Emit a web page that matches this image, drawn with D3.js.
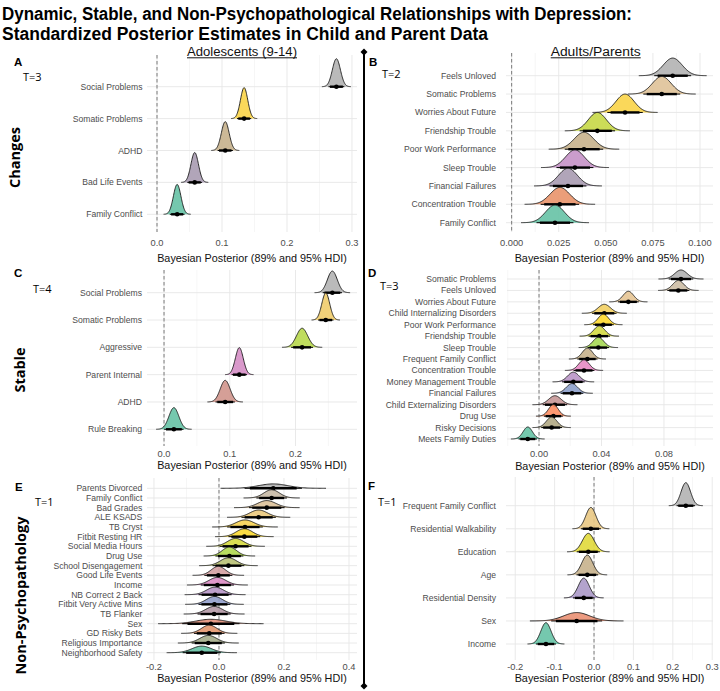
<!DOCTYPE html>
<html><head><meta charset="utf-8">
<script src="https://cdn.jsdelivr.net/npm/d3@7"></script>
<style>body{margin:0;background:#fff}svg{display:block}</style>
</head><body>
<script>
// ---------------- DATA (categories listed top to bottom) ----------------
const aCategories = ["Social Problems","Somatic Problems","ADHD","Bad Life Events","Family Conflict"];
const aMedians    = [0.276, 0.134, 0.105, 0.058, 0.031];
const aSpreads    = [0.0062, 0.0056, 0.0060, 0.0058, 0.0058];
const aTicks      = [0, 0.1, 0.2, 0.3];
const aTickLabels = ["0.0","0.1","0.2","0.3"];
const aMinor      = [0.05, 0.15, 0.25];

const bCategories = ["Feels Unloved","Somatic Problems","Worries About Future","Friendship Trouble","Poor Work Performance","Sleep Trouble","Financial Failures","Concentration Trouble","Family Conflict"];
const bMedians    = [0.0855, 0.0797, 0.0602, 0.0455, 0.0384, 0.0336, 0.0299, 0.0256, 0.0230];
const bSpreads    = [0.0050, 0.0050, 0.0048, 0.0048, 0.0052, 0.0050, 0.0050, 0.0052, 0.0050];
const bTicks      = [0, 0.025, 0.05, 0.075, 0.1];
const bTickLabels = ["0.000","0.025","0.050","0.075","0.100"];
const bMinor      = [0.0125, 0.0375, 0.0625, 0.0875];

const cCategories = ["Social Problems","Somatic Problems","Aggressive","Parent Internal","ADHD","Rule Breaking"];
const cMedians    = [0.256, 0.246, 0.210, 0.1145, 0.093, 0.015];
const cSpreads    = [0.0075, 0.0060, 0.0085, 0.0060, 0.0075, 0.0075];
const cTicks      = [0, 0.1, 0.2];
const cTickLabels = ["0.0","0.1","0.2"];
const cMinor      = [0.05, 0.15, 0.25];

const dCategories = ["Somatic Problems","Feels Unloved","Worries About Future","Child Internalizing Disorders","Poor Work Performance","Friendship Trouble","Sleep Trouble","Frequent Family Conflict","Concentration Trouble","Money Management Trouble","Financial Failures","Child Externalizing Disorders","Drug Use","Risky Decisions","Meets Family Duties"];
const dMedians    = [0.0909, 0.0892, 0.0572, 0.0418, 0.0412, 0.0386, 0.0380, 0.0310, 0.0288, 0.0220, 0.0211, 0.0102, 0.0092, 0.0081, -0.0072];
const dSpreads    = [0.0040, 0.0036, 0.0034, 0.0040, 0.0034, 0.0035, 0.0035, 0.0033, 0.0034, 0.0037, 0.0037, 0.0040, 0.0031, 0.0034, 0.0030];
const dTicks      = [0, 0.04, 0.08];
const dTickLabels = ["0.00","0.04","0.08"];
const dMinor      = [-0.02, 0.02, 0.06, 0.10];

const eCategories = ["Parents Divorced","Family Conflict","Bad Grades","ALE KSADS","TB Cryst","Fitbit Resting HR","Social Media Hours","Drug Use","School Disengagement","Good Life Events","Income","NB Correct 2 Back","Fitbit Very Active Mins","TB Flanker","Sex","GD Risky Bets","Religious Importance","Neighborhood Safety"];
const eMedians    = [0.167, 0.162, 0.147, 0.122, 0.080, 0.078, 0.051, 0.032, 0.029, -0.002, -0.005, -0.012, -0.014, -0.015, -0.025, -0.030, -0.033, -0.053];
const eSpreads    = [0.045, 0.024, 0.028, 0.027, 0.028, 0.025, 0.025, 0.022, 0.025, 0.022, 0.026, 0.026, 0.025, 0.026, 0.045, 0.024, 0.026, 0.030];
const eTicks      = [-0.2, 0, 0.2, 0.4];
const eTickLabels = ["-0.2","0.0","0.2","0.4"];
const eMinor      = [-0.1, 0.1, 0.3];

const fCategories = ["Frequent Family Conflict","Residential Walkability","Education","Age","Residential Density","Sex","Income"];
const fMedians    = [0.233, -0.008, -0.0145, -0.017, -0.026, -0.044, -0.122];
const fSpreads    = [0.012, 0.013, 0.015, 0.014, 0.014, 0.033, 0.013];
const fTicks      = [-0.2, -0.1, 0, 0.1, 0.2, 0.3];
const fTickLabels = ["-0.2","-0.1","0.0","0.1","0.2","0.3"];
const fMinor      = [-0.15, -0.05, 0.05, 0.15, 0.25];

const titleLines  = ["Dynamic, Stable, and Non-Psychopathological Relationships with Depression:",
                     "Standardized Posterior Estimates in Child and Parent Data"];
const columnHeads = ["Adolescents (9-14)", "Adults/Parents"];
const rowHeads    = ["Changes", "Stable", "Non-Psychopathology"];
const tags        = ["A","B","C","D","E","F"];
const timeLabels  = ["T=3","T=2","T=4","T=3","T=1","T=1"];
const axisTitle   = "Bayesian Posterior (89% and 95% HDI)";

// ---------------- LAYOUT ----------------
const W = 720, H = 691;
const svg = d3.select("body").append("svg").attr("width", W).attr("height", H)
  .style("font-family", "'Liberation Sans', Arial, sans-serif");

const palette = d3.piecewise(d3.interpolateRgb, d3.schemeSet2);

const panels = [
  {cats:aCategories, med:aMedians, sd:aSpreads, ticks:aTicks, tl:aTickLabels, minor:aMinor,
   left:147, right:357, top:55, bottom:232, rowTop:86.7, rowBottom:214.3, domain:[-0.0154,0.3077], scale:0.97,
   labelRight:142.5, tickY:245.5, titleY:262, tag:[14,65.5], tlab:[23,80.7]},
  {cats:bCategories, med:bMedians, sd:bSpreads, ticks:bTicks, tl:bTickLabels, minor:bMinor,
   left:506, right:713, top:53, bottom:232, rowTop:75.7, rowBottom:222.7, domain:[-0.0030,0.1069], scale:1.0,
   labelRight:496, tickY:245.5, titleY:262, tag:[369,65.5], tlab:[382,78]},
  {cats:cCategories, med:cMedians, sd:cSpreads, ticks:cTicks, tl:cTickLabels, minor:cMinor,
   left:147, right:357, top:270, bottom:446, rowTop:292.7, rowBottom:429.3, domain:[-0.0259,0.2935], scale:0.99,
   labelRight:142, tickY:456.8, titleY:469, tag:[14,277], tlab:[33,293]},
  {cats:dCategories, med:dMedians, sd:dSpreads, ticks:dTicks, tl:dTickLabels, minor:dMinor,
   left:507, right:713, top:270, bottom:446, rowTop:279, rowBottom:439, domain:[-0.0205,0.1114], scale:1.05,
   labelRight:496, tickY:457.3, titleY:469.5, tag:[368,277], tlab:[380,290.3]},
  {cats:eCategories, med:eMedians, sd:eSpreads, ticks:eTicks, tl:eTickLabels, minor:eMinor,
   left:147, right:357, top:478, bottom:660, rowTop:488.3, rowBottom:652.7, domain:[-0.2215,0.4246], scale:0.93,
   labelRight:142.3, tickY:670, titleY:682, tag:[15,490.7], tlab:[35,505.7]},
  {cats:fCategories, med:fMedians, sd:fSpreads, ticks:fTicks, tl:fTickLabels, minor:fMinor,
   left:506, right:713, top:477, bottom:660, rowTop:505.7, rowBottom:644, domain:[-0.2234,0.3020], scale:1.0,
   labelRight:496, tickY:670, titleY:682, tag:[368,489.7], tlab:[378,505.7]}
];

panels.forEach((p, pi) => {
  const g = svg.append("g");
  const x = d3.scaleLinear().domain(p.domain).range([p.left, p.right]);
  const y = d3.scalePoint().domain(p.cats).range([p.rowTop, p.rowBottom]);
  const n = p.cats.length;
  const spacing = (p.rowBottom - p.rowTop) / (n - 1);
  const minSd = d3.min(p.sd);
  const Hmax = p.scale * spacing;

  // grid
  g.selectAll(".minor").data(p.minor).join("line")
    .attr("x1", d => x(d)).attr("x2", d => x(d)).attr("y1", p.top).attr("y2", p.bottom)
    .attr("stroke", "#f0f0f0").attr("stroke-width", 0.6);
  g.selectAll(".major").data(p.ticks).join("line")
    .attr("x1", d => x(d)).attr("x2", d => x(d)).attr("y1", p.top).attr("y2", p.bottom)
    .attr("stroke", "#e6e6e6").attr("stroke-width", 0.9);
  g.selectAll(".hgrid").data(p.cats).join("line")
    .attr("x1", p.left).attr("x2", p.right).attr("y1", d => y(d)).attr("y2", d => y(d))
    .attr("stroke", "#e6e6e6").attr("stroke-width", 0.9);

  // zero reference
  g.append("line").attr("x1", x(0)).attr("x2", x(0)).attr("y1", p.top).attr("y2", p.bottom)
    .attr("stroke", "#7a7a7a").attr("stroke-width", 1).attr("stroke-dasharray", "3.5,2.5");

  // axes text
  g.selectAll(".ylab").data(p.cats).join("text")
    .attr("x", p.labelRight).attr("y", d => y(d)).attr("dy", "0.35em")
    .attr("text-anchor", "end").attr("font-size", 8.6).attr("fill", "#4d4d4d").text(d => d);
  g.selectAll(".xlab").data(p.ticks).join("text")
    .attr("x", d => x(d)).attr("y", p.tickY).attr("text-anchor", "middle")
    .attr("font-size", 9.3).attr("fill", "#4d4d4d").text((d, i) => p.tl[i]);
  g.append("text").attr("x", (p.left + p.right) / 2).attr("y", p.titleY).attr("text-anchor", "middle")
    .attr("font-size", 10.8).attr("fill", "#111").text(axisTitle);

  // ridges (top rows first so lower ridges overlay)
  const ts = d3.range(-3.6, 3.6001, 0.08);
  p.cats.forEach((c, i) => {
    const m = p.med[i], s = p.sd[i], base = y(c);
    const color = palette((n - 1 - i) / (n - 1));
    const pts = ts.map(t => [x(m + t * s), base - Hmax * (minSd / s) * Math.exp(-t * t / 2)]);
    const area = d3.area().x(d => d[0]).y0(base).y1(d => d[1]);
    g.append("path").attr("d", area(pts)).attr("fill", color).attr("fill-opacity", 0.9);
    g.append("path").attr("d", d3.line()(pts)).attr("fill", "none").attr("stroke", "#1a1a1a").attr("stroke-width", 0.9);
    g.append("line").attr("x1", x(m - 1.96 * s)).attr("x2", x(m + 1.96 * s)).attr("y1", base).attr("y2", base)
      .attr("stroke", "#000").attr("stroke-width", 1);
    g.append("line").attr("x1", x(m - 1.6 * s)).attr("x2", x(m + 1.6 * s)).attr("y1", base).attr("y2", base)
      .attr("stroke", "#000").attr("stroke-width", 2.4);
    g.append("circle").attr("cx", x(m)).attr("cy", base).attr("r", 2.3).attr("fill", "#000");
  });

  // tag and time label
  g.append("text").attr("x", p.tag[0]).attr("y", p.tag[1]).attr("font-size", 11.5).attr("font-weight", "bold")
    .attr("fill", "#000").text(tags[pi]);
  g.append("text").attr("x", p.tlab[0]).attr("y", p.tlab[1]).attr("font-size", 11)
    .style("font-family", "'Open Sans', sans-serif").attr("fill", "#000").text(timeLabels[pi]);
});

// titles
svg.append("text").attr("x", 2).attr("y", 20).attr("font-size", 18).attr("font-weight", "bold")
  .attr("textLength", 630).attr("lengthAdjust", "spacingAndGlyphs")
  .attr("fill", "#000").text(titleLines[0]);
svg.append("text").attr("x", 2).attr("y", 40.2).attr("font-size", 18).attr("font-weight", "bold")
  .attr("textLength", 486).attr("lengthAdjust", "spacingAndGlyphs")
  .attr("fill", "#000").text(titleLines[1]);

// column headers
[[187, 110], [550.7, 90]].forEach((h, i) => {
  svg.append("text").attr("x", h[0]).attr("y", 55.5).attr("font-size", 12).attr("fill", "#111")
    .attr("textLength", h[1]).attr("lengthAdjust", "spacingAndGlyphs").text(columnHeads[i]);
  svg.append("line").attr("x1", h[0]).attr("x2", h[0] + h[1]).attr("y1", 57.8).attr("y2", 57.8)
    .attr("stroke", "#111").attr("stroke-width", 1);
});

// row headers
[[20, 157.5], [25, 370], [25.5, 595.5]].forEach((r, i) => {
  svg.append("text").attr("transform", `translate(${r[0]},${r[1]}) rotate(-90)`)
    .attr("text-anchor", "middle").attr("font-size", 14.5).attr("font-weight", "bold")
    .style("font-family", "'Open Sans', sans-serif").attr("fill", "#000").text(rowHeads[i]);
});

// divider
svg.append("line").attr("x1", 364).attr("x2", 364).attr("y1", 52).attr("y2", 686)
  .attr("stroke", "#000").attr("stroke-width", 2);
[52, 686].forEach(yy => {
  svg.append("path").attr("d", `M364,${yy-3.5}L367.5,${yy}L364,${yy+3.5}L360.5,${yy}Z`).attr("fill", "#000");
});
</script>
</body></html>
